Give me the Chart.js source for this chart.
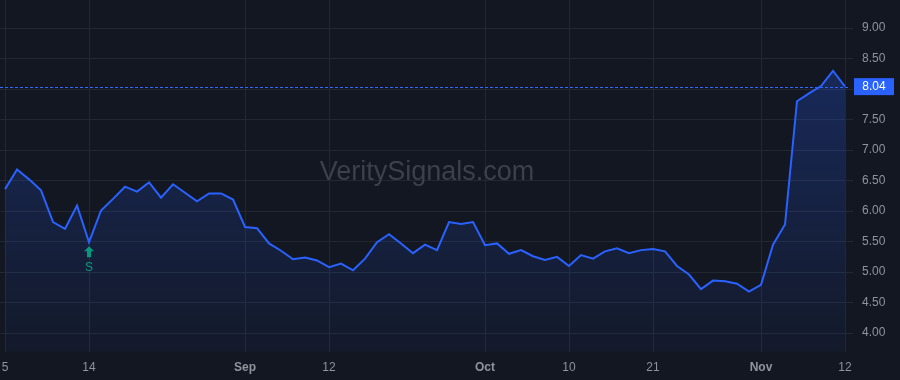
<!DOCTYPE html>
<html>
<head>
<meta charset="utf-8">
<script src="https://cdn.jsdelivr.net/npm/chart.js@4.4.1/dist/chart.umd.min.js"></script>
<style>
  html, body { margin: 0; padding: 0; background: #131722; }
  #wrap { width: 900px; height: 380px; position: relative; }
</style>
</head>
<body>
<div id="wrap"><canvas id="chart"></canvas></div>
<script>
// ── Data ───────────────────────────────────────────────────────────────────
// one close per trading day, Aug 5 → Nov 12
const PRICES = [
  6.36, 6.68, 6.52, 6.34, 5.82, 5.71, 6.09, 5.49, 6.01, 6.20,
  6.40, 6.32, 6.47, 6.22, 6.44, 6.30, 6.16, 6.29, 6.29, 6.19,
  5.74, 5.72, 5.47, 5.35, 5.21, 5.24, 5.19, 5.08, 5.14, 5.03,
  5.22, 5.49, 5.62, 5.47, 5.31, 5.45, 5.36, 5.82, 5.79, 5.82,
  5.44, 5.47, 5.30, 5.36, 5.26, 5.20, 5.25, 5.10, 5.28, 5.22,
  5.34, 5.39, 5.31, 5.36, 5.38, 5.34, 5.10, 4.96, 4.72, 4.86,
  4.85, 4.81, 4.68, 4.79, 5.45, 5.78, 7.80, 7.93, 8.05, 8.30,
  8.04,
];

// bar index → date label on the time axis
const X_TICKS  = [0, 7, 20, 27, 40, 47, 54, 63, 70];
const X_LABELS = ["5", "14", "Sep", "12", "Oct", "10", "21", "Nov", "12"];
const MONTH_LABELS = ["Sep", "Oct", "Nov"];

const Y_TICKS = [4.0, 4.5, 5.0, 5.5, 6.0, 6.5, 7.0, 7.5, 8.0, 8.5, 9.0];

const LAST_PRICE = 8.04;
const SIGNAL_INDEX = 7;
const SIGNAL_TEXT = "S";
const WATERMARK = "VeritySignals.com";

// ── Style ──────────────────────────────────────────────────────────────────
const GRID = "#232733";
const TEXT = "#8f939c";
const LINE = "#2962ff";
const SIGNAL = "#089981";
const FONT = "'Liberation Sans', Arial, sans-serif";

// ── Overlays: watermark, last-price line & label, signal marker ────────────
const overlays = {
  id: "overlays",
  beforeDatasetsDraw(chart) {
    const { ctx, chartArea: a, scales } = chart;
    ctx.save();
    ctx.font = `27px ${FONT}`;
    ctx.fillStyle = "#3c404b";
    ctx.textAlign = "center";
    ctx.textBaseline = "middle";
    ctx.fillText(WATERMARK, (a.left + a.right) / 2 + 3, a.top + a.height * 0.49);

    const y = Math.round(scales.y.getPixelForValue(LAST_PRICE)) + 0.5;
    ctx.strokeStyle = "#2f6bff";
    ctx.lineWidth = 1;
    ctx.setLineDash([3, 2]);
    ctx.beginPath();
    ctx.moveTo(a.left, y);
    ctx.lineTo(a.right, y);
    ctx.stroke();
    ctx.restore();
  },
  afterDraw(chart) {
    const { ctx, chartArea: a, scales } = chart;
    ctx.save();

    // last price tag
    const y = scales.y.getPixelForValue(LAST_PRICE);
    ctx.fillStyle = LINE;
    ctx.fillRect(a.right + 6, y - 8.5, 40, 17);
    ctx.fillStyle = "#ffffff";
    ctx.font = `12px ${FONT}`;
    ctx.textAlign = "center";
    ctx.textBaseline = "middle";
    ctx.fillText(LAST_PRICE.toFixed(2), a.right + 26, y + 0.5);

    // buy signal arrow under the bar
    const sx = scales.x.getPixelForValue(SIGNAL_INDEX);
    const sy = scales.y.getPixelForValue(PRICES[SIGNAL_INDEX]) + 4;
    ctx.fillStyle = SIGNAL;
    ctx.beginPath();
    ctx.moveTo(sx, sy);
    ctx.lineTo(sx + 5, sy + 5);
    ctx.lineTo(sx + 2, sy + 5);
    ctx.lineTo(sx + 2, sy + 11);
    ctx.lineTo(sx - 2, sy + 11);
    ctx.lineTo(sx - 2, sy + 5);
    ctx.lineTo(sx - 5, sy + 5);
    ctx.closePath();
    ctx.fill();
    ctx.font = `12px ${FONT}`;
    ctx.textAlign = "center";
    ctx.textBaseline = "middle";
    ctx.fillText(SIGNAL_TEXT, sx, sy + 21);
    ctx.restore();
  },
};

// ── Chart ──────────────────────────────────────────────────────────────────
new Chart(document.getElementById("chart"), {
  type: "line",
  data: {
    datasets: [{
      data: PRICES.map((y, i) => ({ x: i, y })),
      borderColor: LINE,
      borderWidth: 2,
      pointRadius: 0,
      tension: 0,
      fill: "start",
      backgroundColor: (context) => {
        const { ctx, chartArea } = context.chart;
        if (!chartArea) return "rgba(41,98,255,0.15)";
        const g = ctx.createLinearGradient(0, chartArea.top, 0, chartArea.bottom);
        g.addColorStop(0, "rgba(41,98,255,0.30)");
        g.addColorStop(1, "rgba(41,98,255,0.04)");
        return g;
      },
    }],
  },
  options: {
    responsive: true,
    maintainAspectRatio: false,
    animation: false,
    devicePixelRatio: 1,
    layout: { padding: 0 },
    plugins: { legend: { display: false }, tooltip: { enabled: false } },
    scales: {
      x: {
        type: "linear",
        min: -0.42,
        max: 70.25,
        afterBuildTicks: (scale) => { scale.ticks = X_TICKS.map((v) => ({ value: v })); },
        afterFit: (scale) => { scale.height = 28; scale.paddingLeft = 0; scale.paddingRight = 0; },
        grid: { color: GRID, drawTicks: false },
        border: { display: false },
        ticks: {
          autoSkip: false,
          maxRotation: 0,
          padding: 8,
          color: TEXT,
          font: (c) => ({
            family: FONT,
            size: 12,
            weight: c.tick && MONTH_LABELS.includes(X_LABELS[X_TICKS.indexOf(c.tick.value)]) ? "bold" : "normal",
          }),
          callback: (v) => X_LABELS[X_TICKS.indexOf(v)],
        },
      },
      y: {
        position: "right",
        min: 3.69,
        max: 9.46,
        afterBuildTicks: (scale) => { scale.ticks = Y_TICKS.map((v) => ({ value: v })); },
        afterFit: (scale) => { scale.width = 52; scale.paddingTop = 0; scale.paddingBottom = 0; },
        grid: { color: GRID, tickLength: 5 },
        border: { display: false },
        ticks: {
          padding: 9,
          color: TEXT,
          font: { family: FONT, size: 12 },
          callback: (v) => v.toFixed(2),
        },
      },
    },
  },
  plugins: [overlays],
});
</script>
</body>
</html>
